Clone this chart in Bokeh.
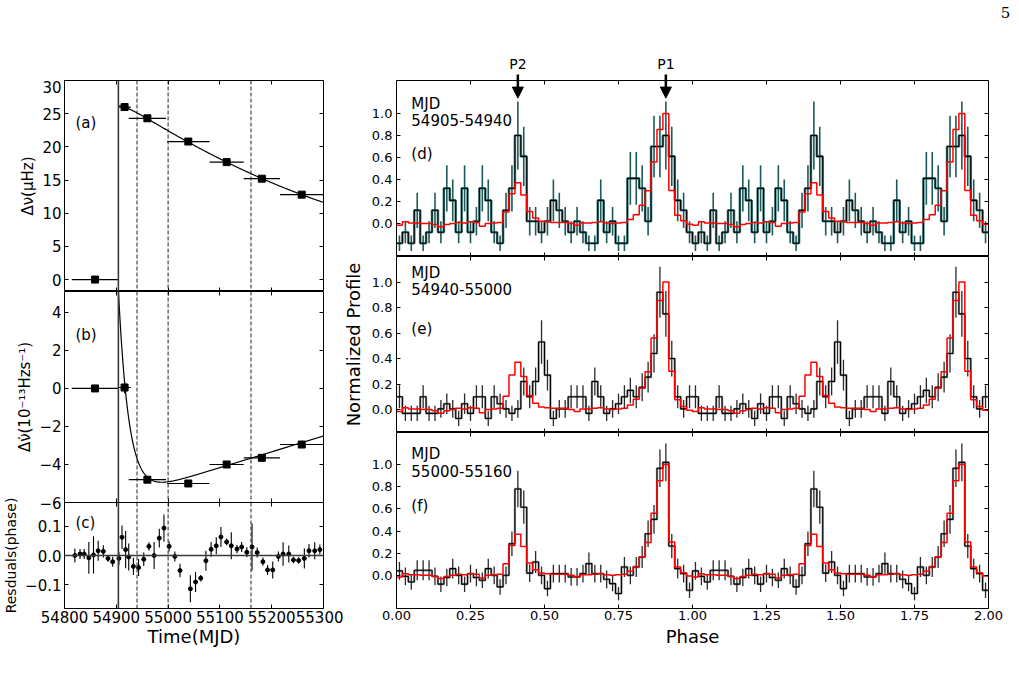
import numpy as np
from bokeh.plotting import figure
from bokeh.models import (ColumnDataSource, Range1d, LinearAxis, FixedTicker,
                          Span, Arrow, NormalHead)
from bokeh.layouts import row, column
from bokeh.embed import file_html
from bokeh.resources import INLINE
from bokeh.core.properties import value

FONT = "DejaVu Sans"
MINUS = "\u2212"

# ---------------- timing solution ----------------
glitch_mjd = 54904
window_edges = [54940, 55000, 55160]

# spin parameters of each fitting interval (centre, half span in days)
epoch_mjd = [54859, 54916, 54960, 55039, 55113, 55181, 55258]
epoch_halfspan = [45, 12, 36, 41, 33, 35, 42]
delta_nu = [0.0, 26.0, 24.3, 20.8, 17.7, 15.2, 12.8]          # micro-Hz
delta_nudot = [0.0, 0.05, -4.8, -5.0, -4.0, -3.65, -2.95]      # 1e-13 Hz/s
delta_nudot_err = [0.0, 0.3, 0.0, 0.0, 0.0, 0.0, 0.0]

# glitch model fit, t in days after the glitch
nu_fit = dict(nu0=26.2, lin=-0.05145, quad=6.27e-5, rec=-0.88, tau=20.0)
nudot_fit = dict(perm=-5.8, dec=11.0, ddot=0.00833, tau=20.0)
fit_span_days = 396

# timing residuals (phase)
res_mjd = [54820, 54830, 54838, 54847, 54856, 54865, 54875, 54884, 54893, 54905,
           54911, 54918, 54924, 54933, 54943, 54953, 54963, 54973, 54983, 54992,
           55002, 55013, 55023, 55043, 55053, 55063, 55073, 55083, 55093, 55102,
           55113, 55122, 55133, 55142, 55152, 55162, 55172, 55183, 55192, 55202,
           55213, 55222, 55233, 55242, 55252, 55263, 55272, 55283, 55293]
res_phase = [0.000, 0.005, 0.005, -0.008, 0.002, 0.016, 0.014, -0.010, -0.021, -0.010,
             0.062, 0.020, -0.005, -0.037, -0.041, -0.013, 0.031, 0.000, 0.059, 0.093,
             0.031, -0.003, -0.051, -0.113, -0.090, -0.077, -0.018, 0.021, 0.033, 0.063,
             0.046, 0.033, 0.022, 0.029, 0.011, 0.029, 0.010, -0.021, -0.049, -0.049,
             -0.003, 0.005, 0.005, -0.015, -0.017, -0.010, 0.016, 0.016, 0.020]
res_err = [0.024, 0.017, 0.017, 0.054, 0.063, 0.034, 0.021, 0.011, 0.017, 0.023,
           0.040, 0.063, 0.046, 0.029, 0.029, 0.023, 0.014, 0.046, 0.032, 0.046,
           0.017, 0.017, 0.023, 0.046, 0.034, 0.011, 0.034, 0.025, 0.029, 0.034,
           0.011, 0.046, 0.014, 0.017, 0.017, 0.080, 0.017, 0.014, 0.017, 0.029,
           0.017, 0.040, 0.029, 0.011, 0.011, 0.034, 0.023, 0.029, 0.017]

# ---------------- pulse profiles (50 bins per rotation) ----------------
template = [-0.015, 0.015, 0.005, 0.005, 0.0, 0.0, -0.01, -0.03, -0.01, 0.0,
            0.01, 0.005, 0.015, 0.01, -0.025, 0.0, 0.005, 0.01, 0.105, 0.27,
            0.37, 0.26, 0.11, 0.05, 0.02, 0.015, 0.01, 0.01, 0.01, 0.0,
            -0.015, 0.005, 0.005, 0.01, 0.015, 0.005, 0.0, 0.005, 0.01, 0.036,
            0.08, 0.167, 0.297, 0.56, 0.855, 1.0, 0.30, 0.076, 0.024, -0.006]

prof_d = [-0.18, -0.08, -0.18, 0.12, -0.18, -0.08, 0.12, -0.08, 0.32, 0.21,
          -0.08, 0.32, -0.08, 0.02, 0.32, 0.21, -0.08, -0.18, 0.12, 0.32,
          0.80, 0.61, 0.02, 0.02, -0.08, 0.02, 0.21, 0.12, 0.02, -0.08,
          0.02, -0.08, -0.18, -0.18, 0.21, -0.08, 0.02, -0.18, -0.18, 0.41,
          0.41, 0.32, 0.02, 0.70, 0.70, 0.80, 0.61, 0.21, 0.12, -0.08]
err_d = [0.07, 0.10, 0.07, 0.16, 0.07, 0.10, 0.16, 0.10, 0.21, 0.19,
         0.10, 0.21, 0.10, 0.13, 0.21, 0.19, 0.10, 0.07, 0.16, 0.21,
         0.31, 0.27, 0.13, 0.13, 0.10, 0.13, 0.19, 0.16, 0.13, 0.10,
         0.13, 0.10, 0.07, 0.07, 0.19, 0.10, 0.13, 0.07, 0.07, 0.24,
         0.24, 0.21, 0.13, 0.28, 0.28, 0.31, 0.27, 0.19, 0.16, 0.10]

prof_e = [0.10, -0.03, -0.03, -0.03, 0.10, -0.03, -0.03, 0.005, 0.045, 0.005,
          -0.07, 0.045, -0.03, 0.10, 0.10, -0.07, 0.10, 0.045, 0.005, -0.03,
          0.005, 0.22, 0.10, 0.22, 0.53, 0.27, -0.07, 0.005, 0.005, 0.10,
          0.10, 0.10, -0.03, 0.22, 0.10, -0.03, 0.005, 0.045, 0.10, 0.15,
          0.10, 0.175, 0.254, 0.44, 0.92, 0.75, 0.40, 0.10, 0.005, 0.10]
err_e = [0.09, 0.06, 0.06, 0.06, 0.09, 0.06, 0.06, 0.07, 0.08, 0.07,
         0.06, 0.08, 0.06, 0.09, 0.09, 0.06, 0.09, 0.08, 0.07, 0.06,
         0.07, 0.11, 0.09, 0.11, 0.17, 0.12, 0.06, 0.07, 0.07, 0.09,
         0.09, 0.09, 0.06, 0.11, 0.09, 0.06, 0.07, 0.08, 0.09, 0.10,
         0.09, 0.11, 0.12, 0.15, 0.20, 0.18, 0.14, 0.09, 0.07, 0.09]

prof_f = [0.04, -0.01, -0.06, 0.045, 0.045, 0.045, -0.01, -0.08, -0.02, 0.06,
          0.0, -0.08, 0.015, -0.02, -0.045, 0.06, 0.0, -0.105, 0.0, 0.285,
          0.78, 0.615, 0.02, 0.12, 0.0, -0.12, 0.015, 0.015, 0.015, -0.015,
          -0.015, 0.015, 0.105, 0.015, 0.015, -0.036, -0.075, -0.165, 0.075, 0.0,
          0.075, 0.165, 0.375, 0.505, 0.967, 1.02, 0.264, 0.06, 0.015, -0.135]
err_f = [0.08, 0.08, 0.07, 0.09, 0.09, 0.09, 0.08, 0.07, 0.08, 0.09,
         0.08, 0.07, 0.08, 0.08, 0.07, 0.09, 0.08, 0.07, 0.08, 0.11,
         0.165, 0.15, 0.08, 0.10, 0.08, 0.07, 0.08, 0.08, 0.08, 0.08,
         0.08, 0.08, 0.10, 0.08, 0.08, 0.08, 0.07, 0.06, 0.09, 0.08,
         0.09, 0.10, 0.12, 0.13, 0.17, 0.17, 0.11, 0.09, 0.08, 0.07]

# pulse components marked above the first profile
components = ["P2", "P1"]
component_phase = [0.41, 0.91]

mjd_ticks = [54800, 54900, 55000, 55100, 55200, 55300]
phase_ticks = [0.0, 0.25, 0.5, 0.75, 1.0, 1.25, 1.5, 1.75, 2.0]
phase_labels = ["0.00", "0.25", "0.50", "0.75", "1.00", "1.25", "1.50", "1.75", "2.00"]
norm_ticks = [0.0, 0.2, 0.4, 0.6, 0.8, 1.0]
norm_labels = ["0.0", "0.2", "0.4", "0.6", "0.8", "1.0"]

# ---------------- page geometry (pixels) ----------------
PAGE_W = 1019
TOP = 80                 # strip above the panels
LW, LL = 323, 63         # left column frame right edge, left border
RW, RL, RR = 696, 73, 31 # right column width and borders
RFRAME = RW - RL - RR    # 592 px for two rotations
OVER = 20                # overlap used to let edge labels show


def make_fig(w, h, xr, yr, left, right, top, bottom, **kw):
    p = figure(width=w, height=h, x_range=xr, y_range=yr,
               x_axis_location=None, y_axis_location=None,
               toolbar_location=None, output_backend="svg",
               min_border_left=left, min_border_right=right,
               min_border_top=top, min_border_bottom=bottom, **kw)
    p.grid.visible = False
    p.outline_line_color = "black"
    p.outline_line_width = 1
    p.outline_line_alpha = 1
    p.background_fill_color = "white"
    p.border_fill_color = "white"
    return p


def add_axis(p, side, ticks, labels=None, size="15px", standoff=3,
             title=None, title_size="18px", title_standoff=0):
    ax = LinearAxis(ticker=FixedTicker(ticks=ticks))
    ax.major_tick_in = 4
    ax.major_tick_out = 0
    ax.major_tick_line_color = "black"
    ax.major_tick_line_width = 1
    ax.minor_tick_line_color = None
    ax.axis_line_color = None
    if labels is None:
        # tick marks only: no labels and no room taken outside the frame
        ax.major_label_text_color = None
        ax.major_label_text_font_size = "0px"
        ax.major_label_standoff = 0
        ax.fixed_location = {"below": p.y_range.start, "above": p.y_range.end,
                             "left": p.x_range.start, "right": p.x_range.end}[side]
    else:
        ax.major_label_overrides = dict(zip(ticks, labels))
        ax.major_label_text_font = FONT
        ax.major_label_text_font_size = size
        ax.major_label_text_color = "black"
        ax.major_label_standoff = standoff
        if title:
            ax.axis_label = title
            ax.axis_label_text_font = FONT
            ax.axis_label_text_font_size = title_size
            ax.axis_label_text_font_style = "normal"
            ax.axis_label_text_color = "black"
            ax.axis_label_standoff = title_standoff
    p.add_layout(ax, side)
    return ax


def epoch_lines(p):
    p.add_layout(Span(location=glitch_mjd, dimension="height",
                      line_color="#3a3a3a", line_width=1.6))
    for m in window_edges:
        p.add_layout(Span(location=m, dimension="height", line_color="#222222",
                          line_width=1, line_dash="4 2"))


def panel_text(p, x, y, txt, size="15px", align="left", font=FONT):
    p.text(x=[x], y=[y], text=[txt], text_font=value(font), text_font_size=size,
           text_baseline="middle", text_align=align, text_color="black")


# ---------------- left column: timing ----------------
mjd_range = (54800, 55300)

pa = make_fig(LW + OVER, 211, Range1d(*mjd_range), Range1d(-1.8, 30.0), LL, OVER, 0, 0)
pb = make_fig(LW + OVER, 211 + OVER // 2, Range1d(*mjd_range), Range1d(-6.0, 5.1),
              LL, OVER, 0, OVER // 2)
pc = make_fig(LW + OVER, 106 + 66 + OVER // 2, Range1d(*mjd_range), Range1d(-0.18, 0.18),
              LL, OVER, OVER // 2, 66, margin=(-OVER, 0, 0, 0))
pc.border_fill_alpha = 0

t_days = np.linspace(0, fit_span_days, 500)
fit_mjd = glitch_mjd + t_days
nu_curve = (nu_fit["nu0"] + nu_fit["lin"] * t_days + 0.5 * nu_fit["quad"] * t_days ** 2
            + nu_fit["rec"] * (np.exp(-t_days / nu_fit["tau"]) - 1.0))
nudot_curve = (nudot_fit["perm"] + nudot_fit["dec"] * np.exp(-t_days / nudot_fit["tau"])
               + nudot_fit["ddot"] * t_days)

ep = np.array(epoch_mjd)
hs = np.array(epoch_halfspan)

# (a) frequency
epoch_lines(pa)
pa.line(fit_mjd, nu_curve, line_color="black", line_width=1.2)
pa.segment(x0=ep - hs, x1=ep + hs, y0=delta_nu, y1=delta_nu, line_color="black", line_width=1.2)
pa.scatter(epoch_mjd, delta_nu, marker="square", size=7, color="black")
panel_text(pa, 54821, 23.6, "(a)")
at = [0, 5, 10, 15, 20, 25, 30]
add_axis(pa, "left", at, [str(v) for v in at], size="15px", standoff=3,
         title="\u0394\u03bd(\u03bcHz)", title_size="15px", title_standoff=2)
add_axis(pa, "right", at)
add_axis(pa, "above", mjd_ticks)
add_axis(pa, "below", mjd_ticks)

# (b) frequency derivative
nd = np.array(delta_nudot)
nde = np.array(delta_nudot_err)
epoch_lines(pb)
pb.line(fit_mjd, nudot_curve, line_color="black", line_width=1.2)
pb.segment(x0=ep - hs, x1=ep + hs, y0=nd, y1=nd, line_color="black", line_width=1.2)
pb.segment(x0=ep, x1=ep, y0=nd - nde, y1=nd + nde, line_color="black", line_width=1.2)
pb.scatter(epoch_mjd, delta_nudot, marker="square", size=7, color="black")
panel_text(pb, 54821, 2.82, "(b)")
bt = [-6, -4, -2, 0, 2, 4]
add_axis(pb, "left", bt, [str(v).replace("-", MINUS) for v in bt], size="15px", standoff=3,
         title="\u0394\u03bd\u0307(10\u207b\u00b9\u00b3Hzs\u207b\u00b9)", title_size="15px",
         title_standoff=2)
add_axis(pb, "right", bt)
add_axis(pb, "above", mjd_ticks)
add_axis(pb, "below", mjd_ticks)

# (c) residuals
rm = np.array(res_mjd)
rp = np.array(res_phase)
re_ = np.array(res_err)
epoch_lines(pc)
pc.add_layout(Span(location=0.0, dimension="width", line_color="#3a3a3a", line_width=1.6))
pc.segment(x0=rm, x1=rm, y0=rp - re_, y1=rp + re_, line_color="black", line_width=1.1)
pc.scatter(res_mjd, res_phase, marker="circle", size=4, color="black")
panel_text(pc, 54821, 0.111, "(c)")
ct = [-0.1, 0.0, 0.1]
add_axis(pc, "left", ct, [MINUS + "0.1", "0.0", "0.1"], size="15px", standoff=3,
         title="Resduals(phase)", title_size="14px", title_standoff=3)
add_axis(pc, "right", ct)
add_axis(pc, "above", mjd_ticks)
add_axis(pc, "below", mjd_ticks, [str(v) for v in mjd_ticks], size="15px", standoff=2,
         title="Time(MJD)", title_size="18px", title_standoff=0)

# ---------------- right column: profiles ----------------
nbins = len(template)
bw = 1.0 / nbins
edges = [i * bw for i in range(2 * nbins + 1)]
centers = [(i + 0.5) * bw for i in range(2 * nbins)]

pd_ = make_fig(RW, 176, Range1d(0, 2), Range1d(-0.3, 1.3), RL, RR, 0, 0)
pe = make_fig(RW, 176, Range1d(0, 2), Range1d(-0.18, 1.2), RL, RR, 0, 0)
pf = make_fig(RW, 242, Range1d(0, 2), Range1d(-0.3, 1.29), RL, RR, 0, 66)
for p in (pd_, pe, pf):
    p.border_fill_alpha = 0


def draw_profile(p, prof, err, halo, halo_w, bar_color, bar_w):
    y2 = np.array(prof + prof)
    e2 = np.array(err + err)
    ystep = list(y2) + [y2[-1]]
    t2 = template + template
    tstep = t2 + [t2[-1]]
    p.step(edges, ystep, mode="after", line_color=halo, line_width=halo_w, line_alpha=0.85)
    p.segment(x0=centers, x1=centers, y0=y2 - e2, y1=y2 + e2, line_color=bar_color, line_width=bar_w)
    p.step(edges, ystep, mode="after", line_color="black", line_width=1.1)
    p.step(edges, tstep, mode="after", line_color="red", line_width=1.5)


draw_profile(pd_, prof_d, err_d, "#2d6e6e", 2.6, "#1f5a5a", 1.6)
draw_profile(pe, prof_e, err_e, "#8a8a8a", 2.3, "#2a2a2a", 1.3)
draw_profile(pf, prof_f, err_f, "#8a8a8a", 2.3, "#2a2a2a", 1.3)

for p, ylab, lines, title in [
        (pd_, (1.09, 0.94, 0.63), ("MJD", "54905-54940", "(d)"), None),
        (pe, (1.07, 0.947, 0.633), ("MJD", "54940-55000", "(e)"), "Normalized Profile"),
        (pf, (1.096, 0.94, 0.63), ("MJD", "55000-55160", "(f)"), None)]:
    for yy, tt in zip(ylab, lines):
        panel_text(p, 0.05, yy, tt)
    add_axis(p, "left", norm_ticks, norm_labels, size="13px", standoff=4,
             title=title, title_size="18px", title_standoff=5)
    add_axis(p, "right", norm_ticks)
    add_axis(p, "above", phase_ticks)
    if p is not pf:
        add_axis(p, "below", phase_ticks)

add_axis(pf, "below", phase_ticks, phase_labels, size="13px", standoff=2,
         title="Phase", title_size="18px", title_standoff=3)

# arrow heads reach into the first profile panel
for ph in component_phase:
    pd_.add_layout(Arrow(end=NormalHead(size=11, fill_color="black", line_color="black"),
                         x_start=ph, y_start=1.30, x_end=ph, y_end=1.14,
                         line_color="black", line_width=2.5))

# ---------------- strip above the panels: labels and arrow tails ----------------
phase_px = RFRAME / 2.0
phase0_px = LW + RL
strip = make_fig(PAGE_W, TOP, Range1d(-phase0_px / phase_px, (PAGE_W - phase0_px) / phase_px),
                 Range1d(0, TOP), 0, 0, 0, 0)
strip.outline_line_color = None
strip.segment(x0=component_phase, x1=component_phase, y0=[0] * 2, y1=[6] * 2,
              line_color="black", line_width=2.5)
for name, ph in zip(components, component_phase):
    panel_text(strip, ph, 17, name, size="14px", align="center")
panel_text(strip, (PAGE_W - 14 - phase0_px) / phase_px, 68, "5", size="15px", align="center",
           font="DejaVu Serif")

left_col = column(pa, pb, pc)
right_col = column(pd_, pe, pf, margin=(0, 0, 0, -OVER))
layout = column(strip, row(left_col, right_col))
open("out.html", "w").write(file_html(layout, INLINE))
